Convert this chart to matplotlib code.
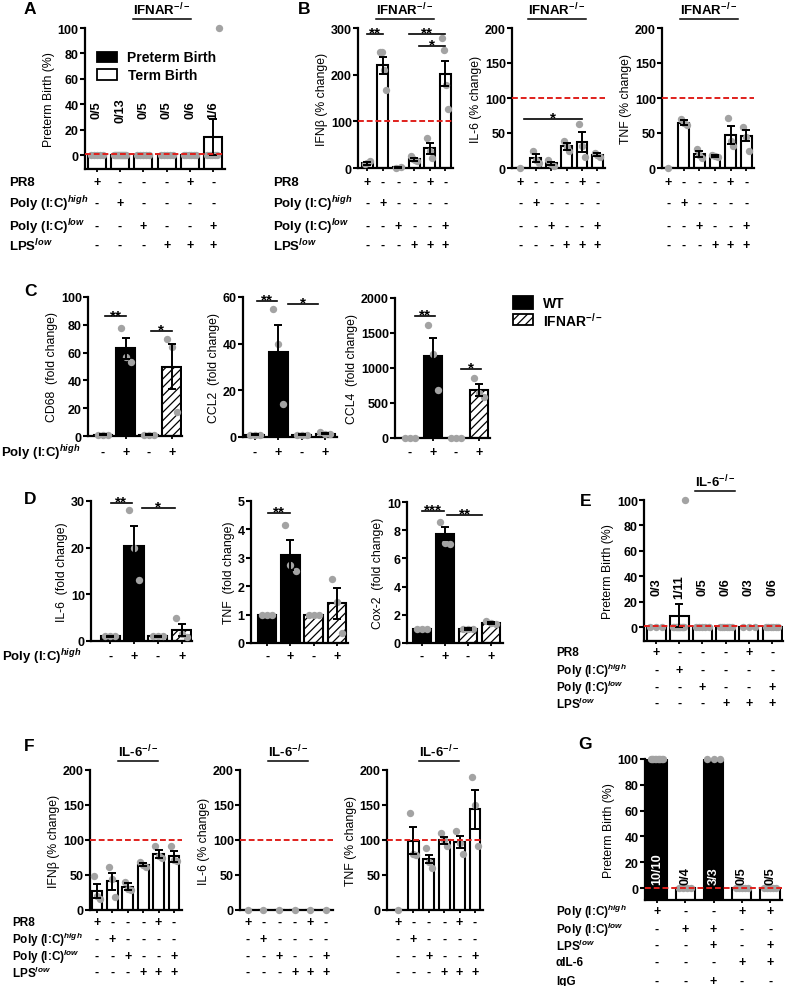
import numpy as np
import matplotlib
matplotlib.use('Agg')
import matplotlib.pyplot as plt
from matplotlib.patches import Rectangle
from matplotlib.lines import Line2D
from matplotlib.transforms import blended_transform_factory

plt.rcParams['font.family'] = ['Liberation Sans', 'DejaVu Sans']
plt.rcParams['font.weight'] = 'bold'
plt.rcParams['mathtext.fontset'] = 'custom'
plt.rcParams['mathtext.rm'] = 'Liberation Sans:bold'
plt.rcParams['mathtext.it'] = 'Liberation Sans:bold:italic'
plt.rcParams['mathtext.bf'] = 'Liberation Sans:bold'
plt.rcParams['hatch.linewidth'] = 0.9

W, H = 785, 987
GRAY = '#a3a3a3'
RED = '#e0201c'

# ---------------- data ----------------
treat_rows = ['PR8', 'Poly (I:C)$^{high}$', 'Poly (I:C)$^{low}$', 'LPS$^{low}$']
treat_signs = ['+---+-', '-+----', '--+--+', '---+++']
poly_row = ['Poly (I:C)$^{high}$']
poly_signs = ['-+-+']

# A: IFNAR-/- preterm birth
a_counts = ['0/5', '0/13', '0/5', '0/5', '0/6', '1/6']
a_mean = [0, 0, 0, 0, 0, 14]
a_sem = [0, 0, 0, 0, 0, 14]
a_dots = [[0] * 5, [0] * 13, [0] * 5, [0] * 5, [0] * 6, [0] * 5 + [100]]

# B: IFNAR-/- cytokines (% change)
b_ifnb_mean = [10, 220, 2, 19, 42, 202]
b_ifnb_sem = [3, 18, 1, 3, 12, 27]
b_ifnb_dots = [[8, 10, 15], [248, 248, 210, 167], [0, 3], [25, 20, 18, 15],
               [64, 37, 22], [278, 253, 178, 126]]
b_il6_mean = [0, 14, 7, 31, 37, 19]
b_il6_sem = [0, 6, 2, 5, 14, 2]
b_il6_dots = [[0], [25, 12, 7], [12, 6, 3], [38, 30, 25], [63, 32, 16], [22, 18, 16]]
b_tnf_mean = [0, 65, 20, 17, 47, 46]
b_tnf_sem = [0, 3, 4, 1, 13, 8]
b_tnf_dots = [[0], [70, 65, 62], [27, 18, 15], [19, 17, 16], [72, 38, 31], [58, 45, 25]]

# C: fold change, WT vs IFNAR-/-
c_cd68_mean = [1, 63, 1, 50]
c_cd68_sem = [0.5, 7.5, 0.5, 16.5]
c_cd68_dots = [[1, 1, 1], [78, 57, 53], [1, 1, 1], [70, 64, 17]]
c_ccl2_mean = [1, 36.5, 1, 1.5]
c_ccl2_sem = [0.2, 11.5, 0.2, 0.4]
c_ccl2_dots = [[1, 1, 1], [55, 40, 14], [1, 1, 1], [2, 1.5, 1.2]]
c_ccl4_mean = [0, 1170, 0, 685]
c_ccl4_sem = [0, 255, 0, 85]
c_ccl4_dots = [[0, 0, 0], [1620, 1200, 690], [0, 0, 0], [860, 640, 580]]

# D: fold change, WT vs IFNAR-/-
d_il6_mean = [1, 20.4, 1, 2.4]
d_il6_sem = [0.1, 4.2, 0.1, 1.3]
d_il6_dots = [[1, 1, 1], [28, 20, 13], [1, 1, 1], [5, 1.5, 0.8]]
d_tnf_mean = [1, 3.1, 1, 1.4]
d_tnf_sem = [0, 0.53, 0, 0.55]
d_tnf_dots = [[1, 1, 1], [4.15, 2.75, 2.55], [1, 1, 1], [2.25, 1.45, 0.35]]
d_cox2_mean = [1, 7.75, 1, 1.4]
d_cox2_sem = [0, 0.45, 0.05, 0.08]
d_cox2_dots = [[1, 1, 1], [8.6, 7.1, 7.0], [1, 1, 1], [1.55, 1.4, 1.35]]

# E: IL-6-/- preterm birth
e_counts = ['0/3', '1/11', '0/5', '0/6', '0/3', '0/6']
e_mean = [0, 9, 0, 0, 0, 0]
e_sem = [0, 9, 0, 0, 0, 0]
e_dots = [[0] * 3, [0] * 10 + [100], [0] * 5, [0] * 6, [0] * 3, [0] * 6]

# F: IL-6-/- cytokines (% change)
f_ifnb_mean = [27, 41, 33, 65, 80, 77]
f_ifnb_sem = [10, 12, 5, 2, 6, 8]
f_ifnb_dots = [[48, 20, 16], [61, 44, 18], [40, 30, 28], [68, 64, 62], [92, 77, 75], [92, 72, 70]]
f_il6_mean = [0, 0, 0, 0, 0, 0]
f_il6_sem = [0, 0, 0, 0, 0, 0]
f_il6_dots = [[0], [0], [0], [0], [0], [0]]
f_tnf_mean = [0, 99, 73, 100, 97, 144]
f_tnf_sem = [0, 19, 6, 5, 9, 28]
f_tnf_dots = [[0], [138, 80, 78], [88, 69, 60], [110, 100, 92], [113, 96, 80], [190, 150, 92]]

# G: anti-IL-6 treatment
g_rows = ['Poly (I:C)$^{high}$', 'Poly (I:C)$^{low}$', 'LPS$^{low}$', 'αIL-6', 'IgG']
g_signs = ['+--++', '-++--', '--+-+', '---++', '--+--']
g_counts = ['10/10', '0/4', '3/3', '0/5', '0/5']
g_mean = [100, 0, 100, 0, 0]
g_dots = [[100] * 10, [0] * 4, [100] * 3, [0] * 5, [0] * 5]

# ---------------- drawing ----------------
fig = plt.figure(figsize=(W / 100, H / 100), dpi=100)
titles = []


def fx(x):
    return x / W


def fy(y):
    return 1 - y / H


def px_axes(left, top, right, bottom):
    return fig.add_axes([left / W, 1 - bottom / H, (right - left) / W, (bottom - top) / H])


def bar_panel(box, xlim, ylim, yticks, means, sems, dots, ylabel, width=0.75,
              faces=None, hatches=None, base=0, refline=None, spread=0.22):
    ax = px_axes(*box)
    n = len(means)
    x = np.arange(n)
    faces = faces or ['white'] * n
    hatches = hatches or [None] * n
    for i in range(n):
        ax.bar(x[i], means[i] - base, bottom=base, width=width, color=faces[i],
               edgecolor='black', linewidth=1.5, hatch=hatches[i], zorder=2)
    for i, d in enumerate(dots):
        off = np.zeros(1) if len(d) == 1 else np.linspace(-spread, spread, len(d))
        ax.plot(x[i] + off, d, 'o', color=GRAY, ms=5.3, mec='none', zorder=3, clip_on=False)
    sems = np.asarray(sems, dtype=float)
    keep = sems > 0
    if keep.any():
        ax.errorbar(x[keep], np.asarray(means)[keep], yerr=sems[keep], fmt='none',
                    ecolor='black', elinewidth=1.4, capsize=3.2, capthick=1.4, zorder=4)
    if refline is not None:
        ax.axhline(refline, color=RED, lw=1.4, ls=(0, (3, 1.5)), zorder=5)
    ax.set_xlim(*xlim)
    ax.set_ylim(*ylim)
    ax.set_yticks(yticks)
    ax.set_xticks(x)
    ax.set_xticklabels([])
    for s in ['top', 'right']:
        ax.spines[s].set_visible(False)
    for s in ['left', 'bottom']:
        ax.spines[s].set_linewidth(1.6)
    ax.tick_params(axis='y', length=3.5, width=1.5, pad=1, labelsize=9)
    ax.tick_params(axis='x', length=2.5, width=1.3)
    ax.set_ylabel(ylabel, fontsize=8.8, fontweight='normal', labelpad=2)
    return ax


def sign_rows(ax, labels, signs, ys, label_x=None, fs=9.5):
    tr = blended_transform_factory(ax.transData, fig.transFigure)
    for lab, row, y in zip(labels, signs, ys):
        if label_x is not None:
            fig.text(fx(label_x), fy(y), lab, ha='left', va='center', fontsize=fs)
        for i, s in enumerate(row):
            ax.text(i, fy(y), s, transform=tr, ha='center', va='center', fontsize=9)


def sig(ax, x0, x1, y, text):
    ax.plot([x0, x1], [y, y], color='black', lw=1.2, clip_on=False, zorder=6)
    ax.annotate(text, (0.5 * (x0 + x1), y), xytext=(0, -4), textcoords='offset points',
                ha='center', va='bottom', fontsize=11, annotation_clip=False)


def counts(ax, labels, y, va='center', colors=None):
    colors = colors or ['black'] * len(labels)
    for i, (lab, c) in enumerate(zip(labels, colors)):
        ax.text(i, y, lab, rotation=90, ha='center', va=va, fontsize=9.2, color=c, zorder=7)


def title(x, y, s):
    titles.append(fig.text(fx(x), fy(y), s, ha='center', va='center', fontsize=9.5))


def letter(x, y, s):
    fig.text(fx(x), fy(y), s, ha='left', va='center', fontsize=12.5)


def box(left, top, right, bottom, face, hatch=None):
    fig.add_artist(Rectangle((fx(left), fy(bottom)), (right - left) / W, (bottom - top) / H,
                             transform=fig.transFigure, facecolor=face, edgecolor='black',
                             lw=1.3, hatch=hatch))


row_ys_top = [183, 204, 227, 246]
pct = [0, 20, 40, 60, 80, 100]

# ---- A ----
letter(24, 10, 'A')
title(162, 10, 'IFNAR$^{-/-}$')
axA = bar_panel((85, 29, 225, 170), (-0.5, 5.5), (-11, 100), pct, a_mean, a_sem, a_dots,
                'Preterm Birth (%)', width=0.78, base=-11, refline=1, spread=0.26)
counts(axA, a_counts, 36)
sign_rows(axA, treat_rows, treat_signs, row_ys_top, label_x=9)
box(97, 53, 117, 63, 'black')
box(97, 70, 117, 81, 'white')
fig.text(fx(127), fy(58), 'Preterm Birth', ha='left', va='center', fontsize=10)
fig.text(fx(128), fy(75.5), 'Term Birth', ha='left', va='center', fontsize=10)

# ---- B ----
letter(298, 10, 'B')
title(405, 10, 'IFNAR$^{-/-}$')
title(557, 10, 'IFNAR$^{-/-}$')
title(709, 10, 'IFNAR$^{-/-}$')
pc200 = [0, 50, 100, 150, 200]
axB1 = bar_panel((358, 29, 453, 169), (-0.6, 5.5), (0, 300), [0, 100, 200, 300],
                 b_ifnb_mean, b_ifnb_sem, b_ifnb_dots, 'IFNβ (% change)', width=0.7,
                 refline=100, spread=0.18)
sig(axB1, 0, 1, 287, '**')
sig(axB1, 2.7, 5, 287, '**')
sig(axB1, 3.3, 5, 262, '*')
sign_rows(axB1, treat_rows, treat_signs, row_ys_top, label_x=273)
axB2 = bar_panel((512, 29, 605, 169), (-0.55, 5.5), (0, 200), pc200,
                 b_il6_mean, b_il6_sem, b_il6_dots, 'IL-6 (% change)', width=0.7,
                 refline=100, spread=0.18)
sig(axB2, 0.2, 4.0, 70, '*')
sign_rows(axB2, treat_rows, treat_signs, row_ys_top)
axB3 = bar_panel((662, 29, 754, 169), (-0.4, 5.5), (0, 200), pc200,
                 b_tnf_mean, b_tnf_sem, b_tnf_dots, 'TNF (% change)', width=0.7,
                 refline=100, spread=0.18)
sign_rows(axB3, treat_rows, treat_signs, row_ys_top)

# ---- C ----
letter(24, 292, 'C')
wt_ko_faces = ['black', 'black', 'white', 'white']
wt_ko_hatch = [None, None, None, '////']
wt_ko_hatch_d = [None, None, '////', '////']
axC1 = bar_panel((88, 298, 182, 437), (-0.65, 3.45), (0, 100), pct,
                 c_cd68_mean, c_cd68_sem, c_cd68_dots, 'CD68  (fold change)', width=0.82,
                 faces=wt_ko_faces, hatches=wt_ko_hatch)
sig(axC1, 0.1, 1.0, 86, '**')
sig(axC1, 2.1, 3.0, 75.5, '*')
sign_rows(axC1, poly_row, poly_signs, [453], label_x=1)
axC2 = bar_panel((243, 298, 337, 438), (-0.5, 3.5), (0, 60), [0, 20, 40, 60],
                 c_ccl2_mean, c_ccl2_sem, c_ccl2_dots, 'CCL2  (fold change)', width=0.82,
                 faces=wt_ko_faces, hatches=wt_ko_hatch)
sig(axC2, 0.1, 0.95, 58.3, '**')
sig(axC2, 1.4, 2.7, 57, '*')
sign_rows(axC2, poly_row, poly_signs, [453])
axC3 = bar_panel((395, 299, 490, 439), (-0.65, 3.48), (0, 2000), [0, 500, 1000, 1500, 2000],
                 c_ccl4_mean, c_ccl4_sem, c_ccl4_dots, 'CCL4  (fold change)', width=0.82,
                 faces=wt_ko_faces, hatches=wt_ko_hatch)
sig(axC3, 0.2, 1.1, 1743, '**')
sig(axC3, 2.2, 3.1, 986, '*')
sign_rows(axC3, poly_row, poly_signs, [453])
box(513, 297, 533, 310, 'black')
box(513, 315, 533, 326, 'white', hatch='////')
fig.text(fx(543), fy(303.5), 'WT', ha='left', va='center', fontsize=10)
fig.text(fx(543), fy(320.5), 'IFNAR$^{-/-}$', ha='left', va='center', fontsize=10)

# ---- D ----
letter(24, 500, 'D')
axD1 = bar_panel((91, 502, 192, 642), (-0.8, 3.43), (0, 30), [0, 10, 20, 30],
                 d_il6_mean, d_il6_sem, d_il6_dots, 'IL-6  (fold change)', width=0.8,
                 faces=wt_ko_faces, hatches=wt_ko_hatch)
sig(axD1, 0.05, 0.9, 29.6, '**')
sig(axD1, 1.35, 2.7, 28.5, '*')
sign_rows(axD1, poly_row, poly_signs, [657], label_x=2)
axD2 = bar_panel((251, 502, 348, 644), (-0.69, 3.47), (0, 5), [0, 1, 2, 3, 4, 5],
                 d_tnf_mean, d_tnf_sem, d_tnf_dots, 'TNF  (fold change)', width=0.8,
                 faces=wt_ko_faces, hatches=wt_ko_hatch_d)
sig(axD2, 0.05, 1.0, 4.57, '**')
sign_rows(axD2, poly_row, poly_signs, [657])
axD3 = bar_panel((407, 503, 503, 644), (-0.65, 3.52), (0, 10), [0, 2, 4, 6, 8, 10],
                 d_cox2_mean, d_cox2_sem, d_cox2_dots, 'Cox-2  (fold change)', width=0.8,
                 faces=wt_ko_faces, hatches=wt_ko_hatch_d)
sig(axD3, 0.0, 0.95, 9.36, '***')
sig(axD3, 1.1, 2.6, 9.08, '**')
sign_rows(axD3, poly_row, poly_signs, [657])

# ---- E ----
letter(580, 502, 'E')
title(715, 482, 'IL-6$^{-/-}$')
axE = bar_panel((644, 501, 783, 642), (-0.52, 5.47), (-11, 100), pct, e_mean, e_sem, e_dots,
                'Preterm Birth (%)', width=0.82, base=-11, refline=1, spread=0.26)
counts(axE, e_counts, 32)
sign_rows(axE, treat_rows, treat_signs, [653, 671, 688, 704], label_x=556, fs=8.5)

# ---- F ----
letter(24, 747, 'F')
title(138, 752, 'IL-6$^{-/-}$')
title(288, 752, 'IL-6$^{-/-}$')
title(439, 752, 'IL-6$^{-/-}$')
row_ys_f = [923, 940, 957, 973]
axF1 = bar_panel((90, 771, 182, 911), (-0.45, 5.52), (0, 200), pc200,
                 f_ifnb_mean, f_ifnb_sem, f_ifnb_dots, 'IFNβ (% change)', width=0.7,
                 refline=100, spread=0.2)
sign_rows(axF1, treat_rows, treat_signs, row_ys_f, label_x=12, fs=8.5)
axF2 = bar_panel((240, 771, 333, 911), (-0.5, 5.45), (0, 200), pc200,
                 f_il6_mean, f_il6_sem, f_il6_dots, 'IL-6 (% change)', width=0.7,
                 refline=100, spread=0.2)
sign_rows(axF2, treat_rows, treat_signs, row_ys_f)
axF3 = bar_panel((387, 771, 483, 911), (-0.7, 5.52), (0, 200), pc200,
                 f_tnf_mean, f_tnf_sem, f_tnf_dots, 'TNF (% change)', width=0.7,
                 refline=100, spread=0.2)
sign_rows(axF3, treat_rows, treat_signs, row_ys_f)

# ---- G ----
letter(578, 745, 'G')
g_faces = ['black' if v >= 100 else 'white' for v in g_mean]
g_text = ['white' if v >= 100 else 'black' for v in g_mean]
axG = bar_panel((645, 760, 782, 901), (-0.42, 4.42), (-9.3, 100), pct, g_mean, [0] * 5, g_dots,
                'Preterm Birth (%)', width=0.68, faces=g_faces, base=-9.3, refline=0,
                spread=0.22)
counts(axG, g_counts, 3, va='bottom', colors=g_text)
sign_rows(axG, g_rows, g_signs, [912, 930, 946, 963, 982], label_x=556, fs=8.5)

# underline the genotype titles
renderer = fig.canvas.get_renderer()
for t in titles:
    bb = t.get_window_extent(renderer)
    fig.add_artist(Line2D([bb.x0 / W, bb.x1 / W], [(bb.y0 - 1.5) / H] * 2,
                          transform=fig.transFigure, color='black', lw=1.1))

fig.savefig('out.png', dpi=100)
